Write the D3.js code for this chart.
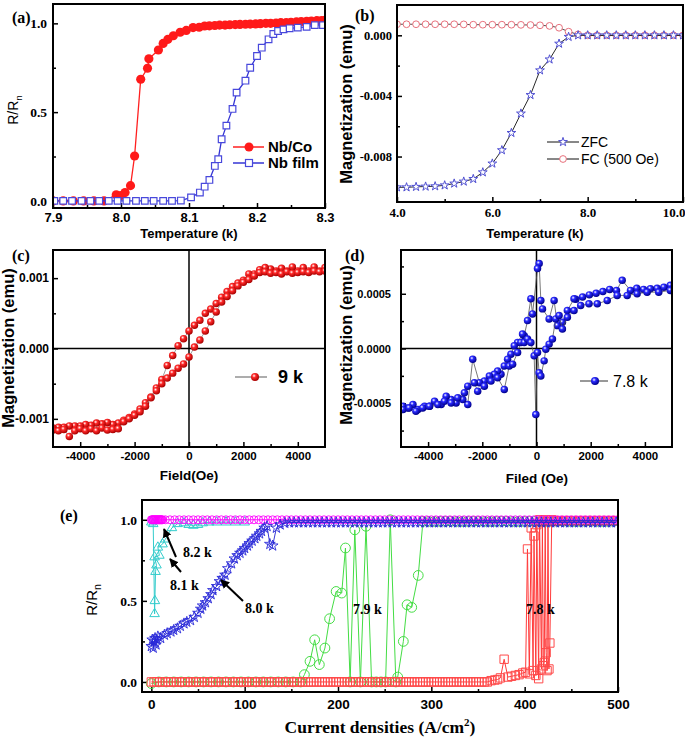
<!DOCTYPE html>
<html><head><meta charset="utf-8">
<script src="https://cdn.jsdelivr.net/npm/d3@7"></script>
<style>body{margin:0;background:#fff}</style>
</head><body>
<script>
// ---------------- DATA ----------------
// (a) R/Rn vs Temperature
const aNbCo = [[7.900,0],[7.915,0],[7.930,0],[7.945,0],[7.960,0],[7.975,0],[7.993,0.034],[8.000,0.03],[8.006,0.047],[8.014,0.086],[8.020,0.253],[8.029,0.685],[8.039,0.747],[8.041,0.80],[8.055,0.85],[8.062,0.887],[8.069,0.91],[8.077,0.93],[8.087,0.95],[8.096,0.96],[8.106,0.976],[8.115,0.978],[8.123,0.985],[8.130,0.986],[8.138,0.988],[8.145,0.99],[8.153,0.99],[8.160,0.992],[8.168,0.993],[8.175,0.994],[8.183,0.995],[8.190,0.996],[8.198,0.997],[8.205,0.998],[8.213,1.0],[8.220,1.0],[8.228,1.002],[8.235,1.004],[8.243,1.005],[8.250,1.006],[8.258,1.008],[8.265,1.01],[8.273,1.012],[8.280,1.013],[8.288,1.015],[8.295,1.016],[8.300,1.017]];
const aNbFilm = [[7.902,0],[7.915,0],[7.928,0],[7.942,0],[7.955,0],[7.968,0],[7.982,0],[7.995,0],[8.008,0],[8.022,0],[8.035,0],[8.048,0],[8.062,0],[8.075,0],[8.088,0.002],[8.103,0.02],[8.116,0.047],[8.123,0.08],[8.130,0.118],[8.138,0.197],[8.143,0.235],[8.148,0.347],[8.155,0.424],[8.164,0.518],[8.170,0.61],[8.183,0.677],[8.190,0.75],[8.200,0.816],[8.207,0.863],[8.217,0.91],[8.224,0.94],[8.231,0.957],[8.239,0.966],[8.248,0.972],[8.260,0.976],[8.273,0.98],[8.285,0.99],[8.297,0.99]];
const aLegend = ["Nb/Co","Nb film"];

// (b) Magnetization vs Temperature
const bZFC = [[4.0,-0.01003],[4.2,-0.01003],[4.4,-0.0100],[4.6,-0.00998],[4.8,-0.00996],[5.0,-0.0099],[5.2,-0.00978],[5.4,-0.00965],[5.6,-0.00948],[5.8,-0.00904],[6.0,-0.00846],[6.2,-0.00758],[6.4,-0.00644],[6.6,-0.00516],[6.8,-0.00394],[7.0,-0.00231],[7.2,-0.00159],[7.4,-0.00055],[7.6,-0.0001],[7.8,0],[8.0,0],[8.2,0],[8.4,0],[8.6,0],[8.8,0],[9.0,0],[9.2,0],[9.4,0],[9.6,0],[9.8,0],[10.0,0]];
const bFC = [[4.0,0.00073],[4.2,0.00073],[4.4,0.00073],[4.6,0.00073],[4.8,0.00073],[5.0,0.00073],[5.2,0.00073],[5.4,0.00072],[5.6,0.0007],[5.8,0.0007],[6.0,0.0007],[6.2,0.0007],[6.4,0.0007],[6.6,0.00069],[6.8,0.00068],[7.0,0.00066],[7.2,0.00062],[7.4,0.0005],[7.6,0.00024],[7.8,0.00006],[8.0,0],[8.2,0],[8.4,0],[8.6,0],[8.8,0],[9.0,0],[9.2,0],[9.4,0],[9.6,0],[9.8,0],[10.0,0]];
const bLegend = ["ZFC","FC (500 Oe)"];

// (c) 9 K hysteresis loop
const cDown = [[5000,0.00115],[4800,0.00110],[4600,0.00116],[4400,0.00110],[4200,0.00115],[4000,0.00110],[3800,0.00116],[3600,0.00110],[3400,0.00114],[3200,0.00110],[3000,0.00113],[2800,0.00115],[2600,0.00112],[2400,0.00106],[2200,0.00106],[2000,0.00097],[1800,0.00093],[1600,0.00088],[1400,0.00081],[1200,0.00073],[1000,0.00064],[800,0.00056],[600,0.00050],[400,0.00040],[200,0.00033],[0,0.00025],[-200,0.00014],[-400,0.00004],[-600,-0.00010],[-800,-0.00024],[-1000,-0.00044],[-1200,-0.00056],[-1400,-0.00069],[-1600,-0.00077],[-1800,-0.00086],[-2000,-0.00093],[-2200,-0.00098],[-2400,-0.00102],[-2600,-0.00106],[-2800,-0.00108],[-3000,-0.00105],[-3200,-0.00107],[-3400,-0.00106],[-3600,-0.00109],[-3800,-0.00108],[-4000,-0.00110],[-4200,-0.00110],[-4400,-0.00110],[-4600,-0.00112],[-4800,-0.00112],[-5000,-0.00113]];
const cUp = [[-5000,-0.00116],[-4800,-0.00117],[-4600,-0.00115],[-4400,-0.00125],[-4200,-0.00117],[-4000,-0.00114],[-3800,-0.00117],[-3600,-0.00114],[-3400,-0.00117],[-3200,-0.00113],[-3000,-0.00116],[-2800,-0.00115],[-2600,-0.00114],[-2400,-0.00104],[-2200,-0.00100],[-2000,-0.00095],[-1800,-0.00090],[-1600,-0.00082],[-1400,-0.00070],[-1200,-0.00060],[-1000,-0.00050],[-800,-0.00042],[-600,-0.00035],[-400,-0.00028],[-200,-0.00022],[0,-0.00012],[200,0.00002],[400,0.00012],[600,0.00025],[800,0.00038],[1000,0.00052],[1200,0.00066],[1400,0.00074],[1600,0.00082],[1800,0.00089],[2000,0.00094],[2200,0.00098],[2400,0.00103],[2600,0.00108],[2800,0.00109],[3000,0.00107],[3200,0.00108],[3400,0.00106],[3600,0.00109],[3800,0.00107],[4000,0.00108],[4200,0.00109],[4400,0.00108],[4600,0.00110],[4800,0.00109],[5000,0.00110]];
const cLegend = "9 k";

// (d) 7.8 K loop
const dDown = [[4939,0.000577],[4700,0.000560],[4450,0.000550],[4203,0.000546],[3950,0.000540],[3700,0.000550],[3468,0.000531],[3162,0.000623],[2950,0.000530],[2700,0.000540],[2450,0.000520],[2200,0.000505],[1950,0.000490],[1700,0.000470],[1450,0.000450],[1385,0.000454],[1140,0.000347],[956,0.000239],[772,0.000209],[650,0.000439],[466,0.00027],[221,0.000362],[160,0.000439],[98,0.000776],[37,0.00073],[-147,0.000316],[-208,0.000454],[-331,0.000255],[-453,0.000117],[-515,0.000132],[-698,0.000055],[-821,0.000025],[-944,-0.000052],[-1066,-0.000098],[-1189,-0.00016],[-1311,-0.000236],[-1434,-0.000206],[-1556,-0.000236],[-1740,-0.000252],[-1924,-0.000298],[-2108,-0.000313],[-2353,-0.000098],[-2537,-0.000512],[-2721,-0.000466],[-2966,-0.000497],[-3150,-0.000466],[-3333,-0.000436],[-3517,-0.000512],[-3762,-0.000482],[-3946,-0.000528],[-4130,-0.000528],[-4375,-0.000558],[-4559,-0.000512],[-4743,-0.000543],[-4926,-0.000528]];
const dUp = [[-4926,-0.000558],[-4700,-0.000543],[-4450,-0.000573],[-4200,-0.000543],[-3950,-0.000528],[-3640,-0.000512],[-3400,-0.000482],[-3150,-0.000497],[-2905,-0.000451],[-2660,-0.000405],[-2537,-0.000344],[-2292,-0.000313],[-2170,-0.00039],[-1924,-0.000344],[-1679,-0.000298],[-1434,-0.000267],[-1189,-0.000374],[-1005,-0.00016],[-882,-0.000144],[-698,-0.000037],[-576,0.000055],[-453,0.000055],[-331,0.000086],[-208,0.000055],[-86,-0.000067],[-25,-0.000604],[37,-0.000037],[98,-0.000221],[160,-0.000252],[282,-0.000113],[343,-0.000006],[466,0.00004],[588,0.000086],[711,0.00027],[833,0.000301],[956,0.000178],[1140,0.000285],[1385,0.000347],[1630,0.000393],[1936,0.000408],[2243,0.000408],[2610,0.000439],[2978,0.000485],[3346,0.000485],[3713,0.0005],[4081,0.000515],[4510,0.000515],[4939,0.000531]];
const dLegend = "7.8 k";

// (e) R/Rn vs current density
const e78 = [[0,0],[3,0],[6,0],[9,0],[12,0],[15,0],[18,0],[21,0],[24,0],[27,0],[30,0],[33,0],[36,0],[39,0],[42,0],[45,0],[48,0],[51,0],[54,0],[57,0],[60,0],[63,0],[66,0],[69,0],[72,0],[75,0],[78,0],[81,0],[84,0],[87,0],[90,0],[93,0],[96,0],[99,0],[102,0],[105,0],[108,0],[111,0],[114,0],[117,0],[120,0],[123,0],[126,0],[129,0],[132,0],[135,0],[138,0],[141,0],[144,0],[147,0],[150,0],[153,0],[156,0],[159,0],[162,0],[165,0],[168,0],[171,0],[174,0],[177,0],[180,0],[183,0],[186,0],[189,0],[192,0],[195,0],[198,0],[201,0],[204,0],[207,0],[210,0],[213,0],[216,0],[219,0],[222,0],[225,0],[228,0],[231,0],[234,0],[237,0],[240,0],[243,0],[246,0],[249,0],[252,0],[255,0],[258,0],[261,0],[264,0],[267,0],[270,0],[273,0],[276,0],[279,0],[282,0],[285,0],[288,0],[291,0],[294,0],[297,0],[300,0],[303,0],[306,0],[309,0],[312,0],[315,0],[318,0],[321,0],[324,0],[327,0],[330,0],[333,0],[336,0],[339,0],[342,0],[345,0],[348,0],[351,0],[354,0],[357,0],[360,0],
 [364,0.008],[368,0.012],[371,0.015],[374,0.025],[378,0.14],[382,0.03],[386,0.035],[390,0.04],[394,0.045],[398,0.055],[401,0.06],[403,0.82],[405,0.05],[407,0.95],[409,0.07],[410,0.9],[412,0.04],[413,0.97],[415,0.02],[416,1.0],[418,0.08],[419,0.99],[420,0.1],[421,0.12],[422,1.0],[423,0.18],[424,0.07],[425,0.99],[426,0.08],[427,0.24],[429,1.0],[431,0.99],
 [435,0.995],[440,0.995],[445,0.995],[450,0.995],[455,0.995],[460,0.995],[465,0.995],[470,0.995],[475,0.995],[480,0.995],[485,0.995],[490,0.995],[495,0.995],[500,0.995]];
const e79 = [[0,-0.01],[8,0],[16,0],[24,0],[32,0],[40,0],[48,0],[56,0],[64,0],[72,0],[80,0],[88,0],[96,0],[104,0],[112,0],[120,0],[128,0],[136,0],[144,0],[152,0],[160,0],
 [164,0.045],[170,0.127],[175,0.26],[180,0.107],[186,0.209],[191,0.39],[198,0.558],[204,0.548],[208,0.826],[213,0],[218,0.938],[224,0],[230,0.96],[236,0],[241,0],[246,0],[251,0],[256,1.0],[262,0],[264,0.03],[270,0.25],[274,0.476],[279,0.46],[286,0.657],[291,0.99],
 [297,0.99],[303,0.99],[309,0.99],[315,0.99],[321,0.99],[327,0.99],[333,0.99],[339,0.99],[345,0.99],[351,0.99],[357,0.99],[363,0.99],[369,0.99],[375,0.99],[381,0.99],[387,0.99],[393,0.99],[399,0.99],[405,0.99],[411,0.99],[417,0.99],[423,0.99],[429,0.99],[435,0.99],[441,0.99],[447,0.99],[453,0.99],[459,0.99],[465,0.99],[471,0.99],[477,0.99],[483,0.99],[489,0.99],[495,0.99]];
const e80 = [[0,0.22],[1,0.26],[2,0.21],[3,0.25],[4,0.27],[5,0.23],[6,0.26],[7,0.28],[10,0.27],[14,0.29],[17,0.30],[21,0.31],[24,0.32],[28,0.33],[31,0.345],[35,0.36],[38,0.37],[42,0.38],[46,0.40],[50,0.425],[53,0.45],[55,0.47],[58,0.49],[61,0.515],[64,0.54],[66,0.565],[70,0.59],[73,0.62],[76,0.64],[79,0.66],[82,0.70],[86,0.73],[89,0.76],[92,0.78],[95,0.795],[98,0.81],[100,0.825],[103,0.84],[105,0.855],[108,0.87],[111,0.885],[113,0.90],[116,0.915],[118,0.93],[121,0.95],[124,0.96],[127,0.85],[130,0.84],[134,0.95],[138,0.97],[143,0.98],
 [148,0.983],[153,0.983],[158,0.983],[163,0.983],[168,0.983],[173,0.983],[178,0.983],[183,0.983],[188,0.983],[193,0.983],[198,0.983],[203,0.983],[208,0.983],[213,0.983],[218,0.983],[223,0.983],[228,0.983],[233,0.983],[238,0.983],[243,0.983],[248,0.983],[253,0.983],[258,0.983],[263,0.983],[268,0.983],[273,0.983],[278,0.983],[283,0.983],[288,0.983],[293,0.983],[298,0.983],[303,0.983],[308,0.983],[313,0.983],[318,0.983],[323,0.983],[328,0.983],[333,0.983],[338,0.983],[343,0.983],[348,0.983],[353,0.983],[358,0.983],[363,0.983],[368,0.983],[373,0.983],[378,0.983],[383,0.983],[388,0.983],[393,0.983],[398,0.983],[403,0.983],[408,0.983],[413,0.983],[418,0.983],[423,0.983],[428,0.983],[433,0.983],[438,0.983],[443,0.983],[448,0.983],[453,0.983],[458,0.983],[463,0.983],[468,0.983],[473,0.983],[478,0.983],[483,0.983],[488,0.983],[493,0.983],[498,0.983]];
const e81 = [[0,0.985],[2,0.975],[3.5,0.42],[3.8,0.50],[4.5,0.68],[5.5,0.72],[3.5,0.77],[8.6,0.78],[7,0.83],[12,0.85],[15,0.88],[22,0.95],[28,0.975],[35,0.98],[40,0.97],[45,0.965],[50,0.97],[55,0.98],[62,0.985],[70,0.985],[80,0.985],[90,0.985],[100,0.985]];
const e82 = [[0,1],[0.7,1],[1.4,1],[2.1,1],[2.8,1],[3.5,1],[4.2,1],[4.9,1],[5.6,1],[6.3,1],[7,1],[7.7,1],[8.4,1],[9.1,1],[9.8,1],[10.5,1],[11.2,1],[12,1],
 [15,1],[20,1],[25,1],[30,1],[35,1],[40,1],[45,1],[50,1],[55,1],[60,1],[65,1],[70,1],[75,1],[80,1],[85,1],[90,1],[95,1],[100,1],[105,1],[110,1],[115,1],[120,1],[125,1],[130,1],[135,1],[140,1],[145,1],[150,1],[155,1],[160,1],[165,1],[170,1],[175,1],[180,1],[185,1],[190,1],[195,1],[200,1],[205,1],[210,1],[215,1],[220,1],[225,1],[230,1],[235,1],[240,1],[245,1],[250,1],[255,1],[260,1],[265,1],[270,1],[275,1],[280,1],[285,1],[290,1],[295,1],[300,1],[305,1],[310,1],[315,1],[320,1],[325,1],[330,1],[335,1],[340,1],[345,1],[350,1],[355,1],[360,1],[365,1],[370,1],[375,1],[380,1],[385,1],[390,1],[395,1],[400,1],[405,1],[410,1],[415,1],[420,1],[425,1],[430,1],[435,1],[440,1],[445,1],[450,1],[455,1],[460,1],[465,1],[470,1],[475,1],[480,1],[485,1],[490,1],[495,1],[500,1]];
const eLabels = ["8.2 k","8.1 k","8.0 k","7.9 k","7.8 k"];

// ---------------- DRAWING ----------------
const SANS = "'Liberation Sans', Arial, sans-serif";
const SERIF = "'Liberation Serif', 'Times New Roman', serif";
const svg = d3.select('body').append('svg').attr('width',685).attr('height',738).style('display','block');
const defs = svg.append('defs');
function sphere(id,c1,c2){
  const g = defs.append('radialGradient').attr('id',id).attr('cx','38%').attr('cy','35%').attr('r','65%');
  g.append('stop').attr('offset','0%').attr('stop-color','#ffffff');
  g.append('stop').attr('offset','35%').attr('stop-color',c1);
  g.append('stop').attr('offset','100%').attr('stop-color',c2);
}
sphere('sphR','#ff2a2a','#a80000');
sphere('sphB','#2a2aff','#00008c');
defs.append('marker').attr('id','arr').attr('viewBox','0 0 10 10').attr('refX',9).attr('refY',5)
  .attr('markerWidth',4.5).attr('markerHeight',4.5).attr('orient','auto')
  .append('path').attr('d','M0,0L10,5L0,10z').attr('fill','#000');

const fmt = f => d => d3.format(f)(d).replace('\u2212','-');

function panel(o){
  const x = d3.scaleLinear().domain(o.xd).range([o.L,o.R]);
  const y = d3.scaleLinear().domain(o.yd).range([o.B,o.T]);
  defs.append('clipPath').attr('id','cl'+o.id).append('rect')
    .attr('x',o.L).attr('y',o.T).attr('width',o.R-o.L).attr('height',o.B-o.T);
  const g = svg.append('g');
  const st = s => { s.select('.domain').remove(); s.selectAll('line').attr('stroke','#000').attr('stroke-width',1.5); };
  g.append('g').attr('transform',`translate(0,${o.B})`)
    .call(d3.axisBottom(x).tickValues(o.xMinor).tickSizeInner(-3).tickSizeOuter(0).tickFormat(()=>'')).call(st);
  g.append('g').attr('transform',`translate(${o.L},0)`)
    .call(d3.axisLeft(y).tickValues(o.yMinor).tickSizeInner(-3).tickSizeOuter(0).tickFormat(()=>'')).call(st);
  const xa = g.append('g').attr('transform',`translate(0,${o.B})`)
    .call(d3.axisBottom(x).tickValues(o.xMajor).tickSizeInner(-5).tickSizeOuter(0).tickPadding(o.xPad).tickFormat(o.xFmt)).call(st);
  xa.selectAll('text').attr('font-family',o.xFont).attr('font-weight','bold').attr('font-size',o.xSize).attr('fill','#000');
  const ya = g.append('g').attr('transform',`translate(${o.L},0)`)
    .call(d3.axisLeft(y).tickValues(o.yMajor).tickSizeInner(-5).tickSizeOuter(0).tickPadding(o.yPad).tickFormat(o.yFmt)).call(st);
  ya.selectAll('text').attr('font-family',o.yFont).attr('font-weight','bold').attr('font-size',o.ySize).attr('fill','#000');
  const plot = svg.append('g').attr('clip-path',`url(#cl${o.id})`);
  return {x,y,plot,o,xa};
}
function box(p){
  const o=p.o;
  svg.append('rect').attr('x',o.L).attr('y',o.T).attr('width',o.R-o.L).attr('height',o.B-o.T)
    .attr('fill','none').attr('stroke','#000').attr('stroke-width',2);
}
function series(p,data,s){
  const line = d3.line().x(d=>p.x(d[0])).y(d=>p.y(d[1]));
  if(s.lc) p.plot.append('path').attr('d',line(data)).attr('fill','none').attr('stroke',s.lc).attr('stroke-width',s.lw||1);
  const sym = d3.symbol().type(s.type||d3.symbolCircle).size(s.size||30);
  p.plot.selectAll(null).data(data).enter().append('path')
    .attr('transform',d=>`translate(${p.x(d[0])},${p.y(d[1])})`)
    .attr('d',sym).attr('fill',s.fill||'none').attr('stroke',s.stroke||'none').attr('stroke-width',s.sw||1);
}
function text(x,y,str,o){
  const t = svg.append('text').attr('x',x).attr('y',y).attr('font-family',o.f||SANS)
    .attr('font-weight',o.w||'bold').attr('font-size',o.s).attr('text-anchor',o.a||'start').attr('fill','#000');
  if(o.rot) t.attr('transform',`rotate(-90,${x},${y})`);
  t.text(str);
  return t;
}
function rrn(x,y,size,w){
  const t = text(x,y,'',{s:size,a:'middle',rot:true,w:w});
  t.append('tspan').text('R/R');
  t.append('tspan').attr('dy',4).attr('font-size',size*0.7).text('n');
}

// ---- (a)
const pa = panel({id:'a',L:53,R:325,T:4,B:208,xd:[7.9,8.3],yd:[-0.04,1.109],
  xMajor:[7.9,8.0,8.1,8.2,8.3],xMinor:[7.95,8.05,8.15,8.25],yMajor:[0,0.5,1.0],yMinor:[0.25,0.75],
  xFmt:fmt('.1f'),yFmt:fmt('.1f'),xPad:5,yPad:6,xFont:SANS,xSize:13,yFont:SERIF,ySize:13.5});
series(pa,aNbCo,{lc:'#ff2020',lw:1.3,size:66,fill:'#ff1a1a'});
series(pa,aNbFilm,{lc:'#3434d4',lw:1.3,type:d3.symbolSquare,size:44,fill:'#fff',stroke:'#4848dc',sw:1.2});
box(pa);
text(12,23,'(a)',{f:SERIF,s:16});
rrn(18,110,14,'normal');
text(189,238,'Temperature (k)',{s:13,a:'middle'});
[[147,'#ff2020'],[163,'#3434d4']].forEach((r,i)=>{
  svg.append('line').attr('x1',233).attr('x2',264).attr('y1',r[0]).attr('y2',r[0]).attr('stroke',r[1]).attr('stroke-width',1.5);
  if(i===0) svg.append('circle').attr('cx',249).attr('cy',r[0]).attr('r',4.5).attr('fill','#ff1a1a');
  else svg.append('rect').attr('x',245.5).attr('y',r[0]-3.5).attr('width',7).attr('height',7).attr('fill','#fff').attr('stroke','#4848dc').attr('stroke-width',1.2);
  text(268,r[0]+5,aLegend[i],{s:15});
});

// ---- (b)
const pb = panel({id:'b',L:397,R:683,T:5,B:202,xd:[4,10],yd:[-0.011,0.002],
  xMajor:[4,6,8,10],xMinor:[5,7,9],yMajor:[0,-0.004,-0.008],yMinor:[-0.002,-0.006,-0.010],
  xFmt:fmt('.1f'),yFmt:fmt('.3f'),xPad:6,yPad:5,xFont:SERIF,xSize:13,yFont:SERIF,ySize:12.5});
pb.xa.selectAll('.tick').filter(d=>d===10).select('text').attr('text-anchor','end').attr('x',2);
series(pb,bFC,{lc:'#222',lw:0.8,size:36,fill:'#fff',stroke:'#e8707c',sw:1});
series(pb,bZFC,{lc:'#111',lw:0.9,type:d3.symbolStar,size:24,fill:'#fff',stroke:'#5050d2',sw:1});
box(pb);
text(355,21,'(b)',{f:SERIF,s:16});
text(352,104,'Magnetization (emu)',{s:16.5,a:'middle',rot:true});
text(535,238,'Temperature (k)',{s:13,a:'middle'});
[[142,d3.symbolStar,'#5050d2',24],[159,d3.symbolCircle,'#e8707c',36]].forEach((r,i)=>{
  svg.append('line').attr('x1',547).attr('x2',579).attr('y1',r[0]).attr('y2',r[0]).attr('stroke','#111').attr('stroke-width',1);
  svg.append('path').attr('d',d3.symbol().type(r[1]).size(r[3])).attr('transform',`translate(563,${r[0]})`)
    .attr('fill','#fff').attr('stroke',r[2]).attr('stroke-width',1);
  text(581,r[0]+5,bLegend[i],{s:14,w:'normal'});
});

// ---- (c)
const pc = panel({id:'c',L:53,R:325,T:250,B:447,xd:[-5000,5000],yd:[-0.0014,0.0014],
  xMajor:[-4000,-2000,0,2000,4000],xMinor:[-3000,-1000,1000,3000],yMajor:[-0.001,0,0.001],yMinor:[-0.0005,0.0005],
  xFmt:fmt('d'),yFmt:fmt('.3f'),xPad:5,yPad:4,xFont:SANS,xSize:11.5,yFont:SANS,ySize:12});
pc.plot.append('line').attr('x1',pc.x(-5000)).attr('x2',pc.x(5000)).attr('y1',pc.y(0)).attr('y2',pc.y(0)).attr('stroke','#000').attr('stroke-width',1.5);
pc.plot.append('line').attr('x1',pc.x(0)).attr('x2',pc.x(0)).attr('y1',pc.y(-0.0014)).attr('y2',pc.y(0.0014)).attr('stroke','#000').attr('stroke-width',1.5);
series(pc,cDown,{lc:'#888',lw:0.8,size:44,fill:'url(#sphR)'});
series(pc,cUp,{lc:'#888',lw:0.8,size:44,fill:'url(#sphR)'});
box(pc);
text(12,261,'(c)',{f:SERIF,s:16});
text(14,348,'Magnetization (emu)',{s:16.5,a:'middle',rot:true});
text(189,480,'Field(Oe)',{s:13.5,a:'middle'});
svg.append('line').attr('x1',235).attr('x2',267).attr('y1',377).attr('y2',377).attr('stroke','#777').attr('stroke-width',1.2);
svg.append('circle').attr('cx',255).attr('cy',377).attr('r',4).attr('fill','url(#sphR)');
text(278,383,cLegend,{s:18});

// ---- (d)
const pd = panel({id:'d',L:401,R:672,T:250,B:447,xd:[-5000,5000],yd:[-0.0009,0.0009],
  xMajor:[-4000,-2000,0,2000,4000],xMinor:[-3000,-1000,1000,3000],yMajor:[-0.0005,0,0.0005],yMinor:[-0.00075,-0.00025,0.00025,0.00075],
  xFmt:fmt('d'),yFmt:fmt('.4f'),xPad:5,yPad:10,xFont:SANS,xSize:11.5,yFont:SANS,ySize:11});
pd.plot.append('line').attr('x1',pd.x(-5000)).attr('x2',pd.x(5000)).attr('y1',pd.y(0)).attr('y2',pd.y(0)).attr('stroke','#000').attr('stroke-width',1.5);
pd.plot.append('line').attr('x1',pd.x(0)).attr('x2',pd.x(0)).attr('y1',pd.y(-0.0009)).attr('y2',pd.y(0.0009)).attr('stroke','#000').attr('stroke-width',1.5);
series(pd,dDown,{lc:'#555',lw:0.8,size:44,fill:'url(#sphB)'});
series(pd,dUp,{lc:'#555',lw:0.8,size:44,fill:'url(#sphB)'});
box(pd);
text(345,261,'(d)',{f:SERIF,s:16});
text(352,345,'Magnetization (emu)',{s:16.5,a:'middle',rot:true});
text(537,483,'Filed (Oe)',{s:13.5,a:'middle'});
svg.append('line').attr('x1',580).attr('x2',608).attr('y1',381).attr('y2',381).attr('stroke','#333').attr('stroke-width',1);
svg.append('circle').attr('cx',595).attr('cy',381).attr('r',4).attr('fill','url(#sphB)');
text(613,387,dLegend,{s:16,w:'normal'});

// ---- (e)
const pe = panel({id:'e',L:142,R:618,T:500,B:692,xd:[-10,500],yd:[-0.062,1.122],
  xMajor:[0,100,200,300,400,500],xMinor:[50,150,250,350,450],yMajor:[0,0.5,1.0],yMinor:[0.25,0.75],
  xFmt:fmt('d'),yFmt:fmt('.1f'),xPad:7,yPad:5,xFont:SANS,xSize:13.5,yFont:SERIF,ySize:13.5});
series(pe,e79,{lc:'#44dd44',lw:1,size:75,stroke:'#44dd44',sw:1});
series(pe,e78,{lc:'#ff3a3a',lw:1,type:d3.symbolSquare,size:70,stroke:'#ff4a4a',sw:1});
series(pe,e81,{lc:'#33cccc',lw:1,type:d3.symbolTriangle,size:40,stroke:'#33cccc',sw:1});
series(pe,e82,{lc:'#ff00ff',lw:1,size:50,stroke:'#ff00ff',sw:0.9});
series(pe,e80,{lc:'#2020d0',lw:0.9,type:d3.symbolStar,size:36,stroke:'#2828d8',sw:0.9});
box(pe);
text(60,521,'(e)',{f:SERIF,s:16});
rrn(97,600,15,'normal');
const et = text(380,733,'',{f:SERIF,s:17.5,a:'middle'});
et.append('tspan').text('Current densities (A/cm');
et.append('tspan').attr('dy',-7).attr('font-size',11).text('2');
et.append('tspan').attr('dy',7).text(')');
const arrows = [[176,557,164,529],[181,572,170,559],[243,601,221,580]];
arrows.forEach(a=>svg.append('line').attr('x1',a[0]).attr('y1',a[1]).attr('x2',a[2]).attr('y2',a[3])
  .attr('stroke','#000').attr('stroke-width',2).attr('marker-end','url(#arr)'));
const labPos = [[183,557],[170,590],[245,613],[353,614],[526,614]];
eLabels.forEach((l,i)=>text(labPos[i][0],labPos[i][1],l,{f:SERIF,s:14}));
</script>
</body></html>
